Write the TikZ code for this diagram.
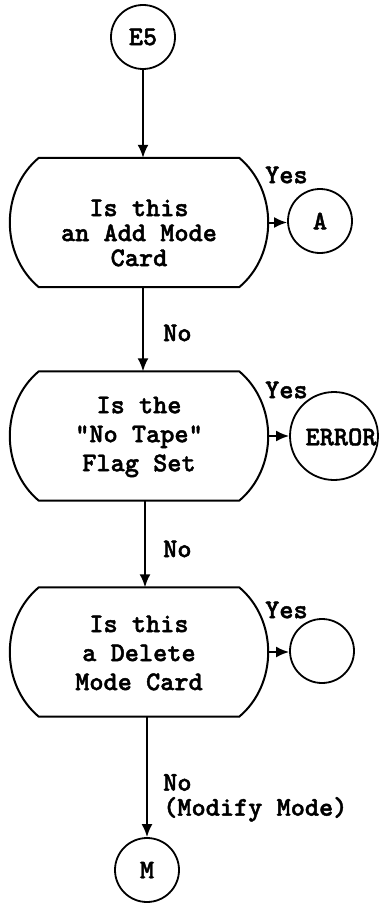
\documentclass[tikz,border=0pt]{standalone}
\usepackage{fontspec}
\newfontfamily\twface{lmmonolt10-bold.otf}[FakeBold=1.6]
\usetikzlibrary{arrows.meta}

% heavy typewriter face used for every label
\newcommand\twfont[1]{\twface\fontsize{27pt}{#1}\selectfont}

% outline of a decision box: straight top and bottom, bulging sides
\newcommand\decoutline[1]{%
  \draw[line] ([xshift=28pt]#1.north west) -- ([xshift=-28pt]#1.north east)
    to[bend left=50] ([xshift=-28pt]#1.south east)
    -- ([xshift=28pt]#1.south west)
    to[bend left=50] ([xshift=28pt]#1.north west) -- cycle;}

\begin{document}
\begin{tikzpicture}[x=1pt,y=-1pt,
  line/.style={line width=2pt, line join=round},
  flow/.style={line, -{Latex[length=13pt,width=11pt]}},
  conn/.style={circle, draw, line width=1.8pt, minimum size=64pt, inner sep=0pt,
               font=\twfont{29pt}},
  dec/.style={rectangle, minimum width=256pt, minimum height=129pt, inner sep=0pt},
  qtext/.style={align=center, inner sep=0pt, font=\twfont{29pt}},
  qtexttight/.style={qtext, font=\twfont{25pt}},
  lbl/.style={anchor=west, inner sep=0pt, font=\twfont{25pt}},
]
\useasboundingbox (0,0) rectangle (380,904);

% entry connector
\node[conn] (e5) at (143,37) {E5};

% first decision
\node[dec] (b1) at (139,222.5) {};
\decoutline{b1}
\node[qtexttight] (t1) at (139,233) {Is this\\an Add Mode\\Card};
\node[lbl] (y1) at (265,175) {Yes};
\node[conn] (a) at (320,221) {A};

% second decision
\node[dec] (b2) at (139,436) {};
\decoutline{b2}
\node[qtext] (t2) at (139,437) {Is the\\"No Tape"\\Flag Set};
\node[lbl] (y2) at (265,390) {Yes};
\node[conn, minimum size=88pt] (err) at (334,436) {};
\node[lbl, anchor=center] (errt) at (341,437) {ERROR};

% third decision
\node[dec] (b3) at (139,652) {};
\decoutline{b3}
\node[qtext] (t3) at (139,653) {Is this\\a Delete\\Mode Card};
\node[lbl] (y3) at (265,610) {Yes};
\node[conn] (c3) at (322,651) {};

% exit connector
\node[conn] (m) at (147,870) {M};

% branch labels
\node[lbl] (n1) at (163,333) {No};
\node[lbl] (n2) at (163,549) {No};
\node[lbl, align=left, anchor=north west] (n3) at (163,774) {No\\(Modify Mode)};

% flow lines
\draw[flow] (e5.south) -- (e5.south |- b1.north);
\draw[flow] ([xshift=4pt]b1.south) -- ([xshift=4pt]b2.north);
\draw[flow] ([xshift=6pt]b2.south) -- ([xshift=6pt]b3.north);
\draw[flow] (b3.south -| m.north) -- (m.north);
\draw[flow] (b1.east) -- (b1.east -| a.west);
\draw[flow] (b2.east) -- (b2.east -| err.west);
\draw[flow] (b3.east) -- (b3.east -| c3.west);
\end{tikzpicture}
\end{document}
